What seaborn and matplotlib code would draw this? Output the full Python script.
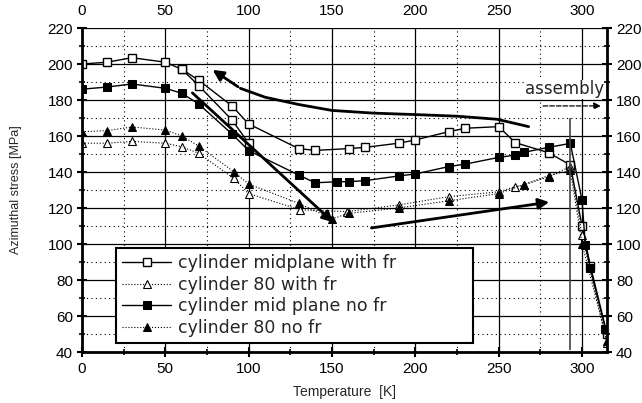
import matplotlib
matplotlib.use("Agg")
import matplotlib.pyplot as plt
import seaborn as sns
import pandas as pd

# ---------------- data ----------------
t_mid_fr = [0, 15, 30, 50, 60, 70, 90, 100, 130, 140, 160, 170, 190, 200, 220, 230, 250, 260, 280, 293, 300, 305, 315]
v_mid_fr = [200, 201, 203.5, 201, 197, 191, 176.7, 166.7, 153, 152, 153, 153.7, 156, 157.8, 162.4, 164.3, 165.2, 156.3, 150.7, 143.9, 110, 88, 50]
# second (lower) branch of the same measurement
t_mid_fr_b = [60, 70, 90, 100]
v_mid_fr_b = [197, 188, 168.9, 156]

t_c80_fr = [0, 15, 30, 50, 60, 70, 91, 100, 131, 159, 190, 220, 250, 260, 265, 280, 293, 300, 315]
v_c80_fr = [156, 156, 157, 156, 154, 150.4, 136.5, 128, 119, 118, 121.7, 126.3, 129, 131.8, 132.8, 137.4, 143, 105, 45]

t_mid_nofr = [0, 15, 30, 50, 60, 70, 90, 100, 130, 140, 153, 160, 170, 190, 200, 220, 230, 250, 260, 265, 280, 293, 300, 302, 305, 314]
v_mid_nofr = [186, 187.2, 188.9, 186.5, 183.7, 177.8, 161.1, 151.9, 138.3, 134, 134.6, 134.6, 135.2, 137.8, 138.9, 143, 144.4, 148.1, 149.4, 150.9, 153.7, 155.9, 124.4, 99.4, 86.5, 53]

t_c80_nofr = [0, 15, 30, 50, 60, 70, 91, 100, 130, 150, 160, 190, 220, 250, 265, 280, 293, 300, 315]
v_c80_nofr = [162.4, 163, 165, 163.3, 160, 154.4, 140.2, 133.3, 122.6, 114, 117, 120, 124, 128, 133, 138, 141, 100, 46]

labels = ["cylinder midplane with fr", "cylinder 80 with fr",
          "cylinder mid plane no fr", "cylinder 80 no fr"]

x_ticks = [0, 50, 100, 150, 200, 250, 300]
y_ticks = [40, 60, 80, 100, 120, 140, 160, 180, 200, 220]

# annotation paths
curve_t = [268, 249, 225, 200, 175, 150, 130, 110, 95, 77]
curve_v = [165.2, 169.3, 171.0, 171.9, 172.7, 174.2, 177.5, 181.5, 186.5, 197.6]
arrow_down = [(65, 185), (152, 111)]
arrow_right = [(172, 108.7), (282, 123.5)]
assembly_arrow = [(275, 176.7), (313, 176.7)]
assembly_line_t = 293
assembly_line_v = (41, 170)

# ---------------- style ----------------
sns.set_theme(style="white")
plt.rcParams["font.family"] = ["Liberation Sans", "DejaVu Sans"]

fig = plt.figure(figsize=(6.42, 4.03), dpi=100)
ax = fig.add_axes([82 / 642, 1 - 352 / 403, 525 / 642, 324 / 403])

common = dict(color="black", ax=ax, sort=False, estimator=None)
sns.lineplot(x=t_mid_fr, y=v_mid_fr, marker="s", ms=6, mfc="white", mec="black",
             mew=1, lw=1.0, label=labels[0], **common)
sns.lineplot(x=t_mid_fr_b, y=v_mid_fr_b, marker="s", ms=6, mfc="white", mec="black",
             mew=1, lw=1.0, legend=False, **common)
sns.lineplot(x=t_c80_fr, y=v_c80_fr, marker="^", ms=6, mfc="white", mec="black",
             mew=0.8, lw=0.8, linestyle=":", label=labels[1], **common)
sns.lineplot(x=t_mid_nofr, y=v_mid_nofr, marker="s", ms=6, mfc="black", mec="black",
             lw=1.0, label=labels[2], **common)
sns.lineplot(x=t_c80_nofr, y=v_c80_nofr, marker="^", ms=6, mfc="black", mec="black",
             lw=0.8, linestyle=":", label=labels[3], **common)

# annotations
ax.plot(curve_t[:-1], curve_v[:-1], color="black", lw=2)
ax.annotate("", xy=(curve_t[-1], curve_v[-1]), xytext=(curve_t[-2], curve_v[-2]),
            arrowprops=dict(arrowstyle="-|>", color="black", lw=2, mutation_scale=16))
ax.annotate("", xy=arrow_down[1], xytext=arrow_down[0],
            arrowprops=dict(arrowstyle="-|>", color="black", lw=2, mutation_scale=16))
ax.annotate("", xy=arrow_right[1], xytext=arrow_right[0],
            arrowprops=dict(arrowstyle="-|>", color="black", lw=2, mutation_scale=16))
ax.annotate("", xy=assembly_arrow[1], xytext=assembly_arrow[0],
            arrowprops=dict(arrowstyle="-|>", color="black", lw=0.9, linestyle="--",
                            mutation_scale=10))
ax.text(313, 186, "assembly", ha="right", va="center", fontsize=12,
        family=["DejaVu Sans"], bbox=dict(fc="white", ec="none", pad=0.5))
ax.vlines(assembly_line_t, *assembly_line_v, color="#444444", lw=1.2)

# axes
ax.set_xlim(0, 315)
ax.set_ylim(40, 220)
ax.set_xticks(x_ticks)
ax.set_yticks(y_ticks)
ax.set_xticks([25, 75, 125, 175, 225, 275], minor=True)
ax.set_yticks(list(range(50, 220, 20)), minor=True)
ax.grid(which="major", color="black", lw=0.9, ls="-")
ax.grid(which="minor", color="black", lw=0.8, ls=(0, (1, 3)))
ax.set_axisbelow(True)

for s in ["left", "right", "bottom"]:
    ax.spines[s].set_visible(True)
    ax.spines[s].set_color("black")
    ax.spines[s].set_linewidth(2)
ax.spines["top"].set_visible(False)

ax.tick_params(axis="both", which="major", direction="inout", length=7, width=1.5,
               colors="black", labelsize=11)
ax.tick_params(axis="both", which="minor", direction="inout", length=5, width=1.2,
               colors="black")
ax.tick_params(axis="x", which="both", top=False, labeltop=True, bottom=True, pad=3)
ax.tick_params(axis="y", which="both", left=True, right=True, labelright=True, pad=3)
ax.tick_params(axis="x", which="major", labeltop=True, pad=4)

ax.set_xlabel("Temperature  [K]", fontsize=10, labelpad=6)
ax.set_ylabel("Azimuthal stress [MPa]", fontsize=9, labelpad=18)

leg = ax.legend(loc="lower left", bbox_to_anchor=(0.065, 0.028, 0.68, 0.283),
                mode="expand", handlelength=2.8, labelspacing=0.2, borderaxespad=0,
                handletextpad=0.4, borderpad=0.35, frameon=True, fancybox=False,
                edgecolor="black", prop={"family": ["DejaVu Sans"], "size": 12.5})
leg.get_frame().set_linewidth(1.5)
leg.get_frame().set_alpha(1)

fig.savefig("out.png", dpi=100)
